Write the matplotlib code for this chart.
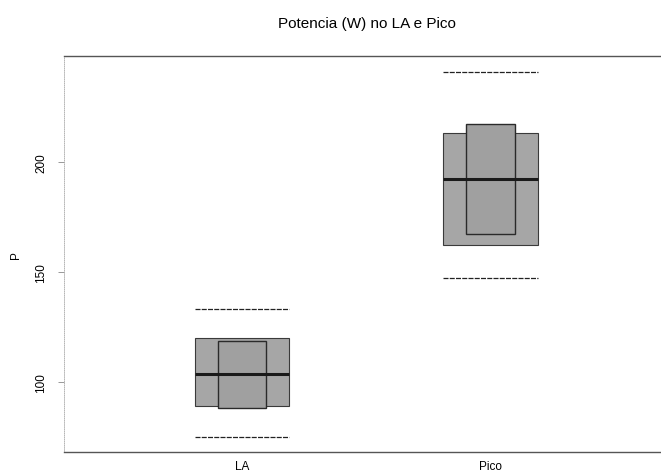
import matplotlib
matplotlib.use("Agg")
import matplotlib.pyplot as plt

plt.rcParams['font.family'] = ['Liberation Sans', 'DejaVu Sans']

categories = ["LA", "Pico"]
whisker_low = [75, 147]
q1 = [89, 162]
notch_low = [88, 167]
median = [103.5, 192]
notch_high = [118.5, 217]
q3 = [120, 213]
whisker_high = [133, 241]

positions = [1, 2]

fig = plt.figure(figsize=(6.61, 4.77), dpi=100)
ax = fig.add_axes([0.097, 0.05, 0.901, 0.83])

box_w = 0.38
notch_w = 0.195

heights = [h - l for h, l in zip(q3, q1)]
ax.bar(positions, heights, bottom=q1, width=box_w, color='#a6a6a6',
       edgecolor='#3a3a3a', linewidth=0.8, zorder=2)
nh = [h - l for h, l in zip(notch_high, notch_low)]
ax.bar(positions, nh, bottom=notch_low, width=notch_w, color='#a0a0a0',
       edgecolor='#2a2a2a', linewidth=1.0, zorder=3)

left = [p - box_w / 2 for p in positions]
right = [p + box_w / 2 for p in positions]
ax.hlines(median, left, right, colors='#1a1a1a', linewidth=2.2, zorder=4)
ax.hlines(whisker_high, left, right, colors='#222222', linewidth=0.9,
          linestyles=(0, (4, 1)), zorder=4)
ax.hlines(whisker_low, left, right, colors='#222222', linewidth=0.9,
          linestyles=(0, (4, 1)), zorder=4)

ax.set_xlim(0.285, 2.68)
ax.set_ylim(68, 248)
ax.set_xticks(positions)
ax.set_xticklabels(categories, fontsize=8.5)
ax.set_yticks([100, 150, 200])
ax.set_yticklabels(['100', '150', '200'], fontsize=8.5, rotation=90, va='center')
ax.tick_params(axis='x', length=0, pad=6)
ax.tick_params(axis='y', length=4, width=0.6, color='#888888', pad=8)
ax.set_ylabel('P', fontsize=8.5, labelpad=10)

for s in ['top', 'bottom']:
    ax.spines[s].set_color('#555555')
    ax.spines[s].set_linewidth(1.0)
ax.spines['right'].set_visible(False)
ax.spines['left'].set_color('#aaaaaa')
ax.spines['left'].set_linewidth(0.6)
ax.spines['left'].set_linestyle((0, (1, 1.5)))

fig.suptitle('Potencia (W) no LA e Pico', x=0.555, y=0.965, fontsize=11)

fig.savefig('out.png', dpi=100)
